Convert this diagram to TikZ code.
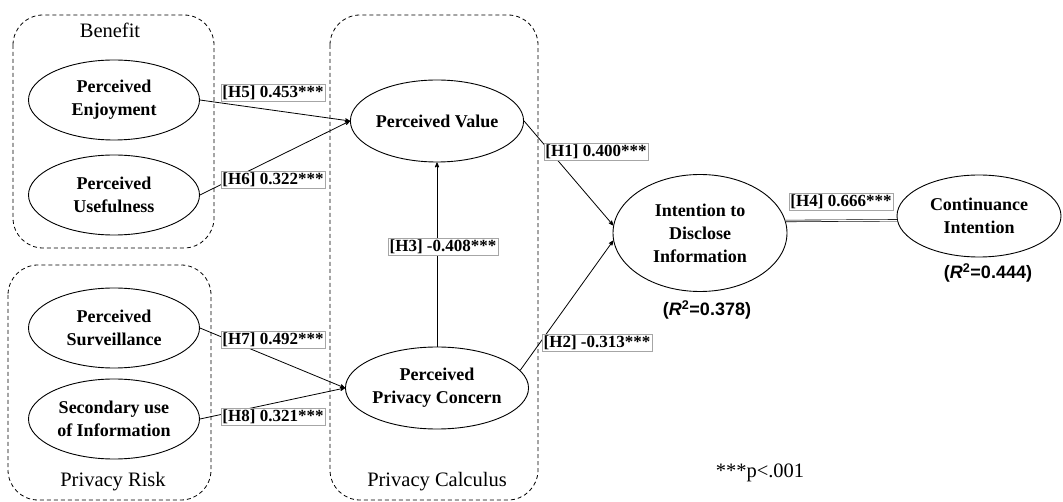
\documentclass[tikz,border=0pt]{standalone}
\usepackage{fontspec}
\setmainfont{Liberation Serif}
\setsansfont{Liberation Sans}
\usetikzlibrary{arrows,shapes.geometric}
\usetikzlibrary{positioning}
\tikzset{
    construct/.style={
           ellipse,
           draw=black, line width=0.9pt,
           minimum width=171pt, minimum height=80pt,
           inner sep=0pt,
           align=center,
           font=\fontsize{18}{23}\selectfont\bfseries,
           },
    coef/.style={
           rectangle,
           draw=black!35, fill=white, line width=0.6pt,
           inner sep=1.5pt,
           font=\fontsize{17}{19}\selectfont\bfseries,
           },
    group/.style={
           draw=black, line width=0.8pt, dash pattern=on 4pt off 3pt,
           rounded corners=30pt,
           },
    grouptitle/.style={font=\fontsize{20.5}{23}\selectfont},
    rsq/.style={font=\sffamily\bfseries\fontsize{18}{20}\selectfont},
}

\begin{document}
\begin{tikzpicture}[x=1pt,y=-1pt,>=stealth',line width=0.8pt]
	\useasboundingbox (0,0) rectangle (1063,502);

	% groups
	\draw[group] (13,15) rectangle (214,248);
	\draw[group] (8,265) rectangle (211,500);
	\draw[group] (330,15) rectangle (538,500);
	\node[grouptitle] (benefitT) at (110,30) {Benefit};
	\node[grouptitle] (riskT) at (113,482) {Privacy Risk};
	\node[grouptitle] (calcT) at (437,482) {Privacy Calculus};

	% constructs
	\node[construct] (PE) at (114,100) {Perceived\\Enjoyment};
	\node[construct] (PU) at (114,195) {Perceived\\Usefulness};
	\node[construct] (PS) at (114,328) {Perceived\\Surveillance};
	\node[construct] (SU) at (114,419) {Secondary use\\of Information};
	\node[construct,minimum width=161pt,minimum height=82pt] (PV) at (437,121) {Perceived Value};
	\node[construct,minimum width=161pt,minimum height=82pt] (PPC) at (437,388) {Perceived\\Privacy Concern};
	\node[construct,minimum width=174pt,minimum height=117pt] (ITD) at (700,233) {Intention to\\Disclose\\Information};
	\node[construct,minimum width=164pt,minimum height=82pt] (CI) at (979,216) {Continuance\\Intention};

	% paths
	\path[->] (PE.east) edge (PV.west);
	\path[->] (PU.east) edge (PV.west);
	\path[->] (PS.east) edge (PPC.west);
	\path[->] (SU.east) edge (PPC.west);
	\path[->] (PPC.north) edge (PV.south);
	\path[->] (PV.east) edge (ITD.175);
	\path[->] (PPC.12) edge (ITD.185);
	\draw[double, double distance=1pt, line width=0.6pt] (ITD.8) -- (CI.183);

	% coefficients
	\node[coef] (h5) at (273,93) {[H5] 0.453***};
	\node[coef] (h6) at (273,180) {[H6] 0.322***};
	\node[coef] (h7) at (273,340) {[H7] 0.492***};
	\node[coef] (h8) at (273,417) {[H8] 0.321***};
	\node[coef] (h3) at (443,247) {[H3] -0.408***};
	\node[coef] (h1) at (596,152) {[H1] 0.400***};
	\node[coef] (h2) at (597,343) {[H2] -0.313***};
	\node[coef] (h4) at (841,202) {[H4] 0.666***};

	\node[rsq] (r2itd) at (707,310) {(\textit{R}\textsuperscript{2}=0.378)};
	\node[rsq] (r2ci) at (988,273) {(\textit{R}\textsuperscript{2}=0.444)};
	\node[grouptitle] (pnote) at (760,473) {***p<.001};
\end{tikzpicture}
\end{document}
